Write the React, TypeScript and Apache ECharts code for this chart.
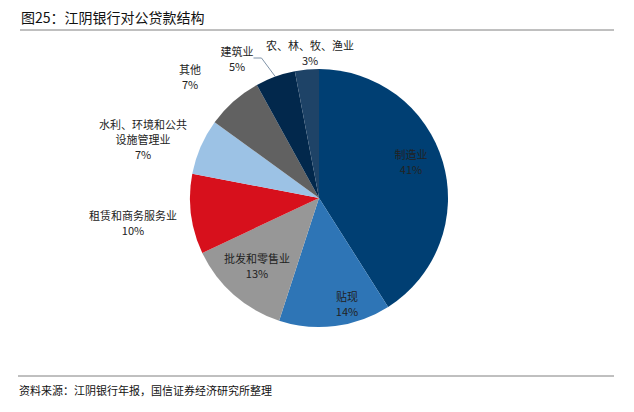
import React, { useEffect, useRef } from "react";
import * as echarts from "echarts";

const categories = ["制造业", "贴现", "批发和零售业", "租赁和商务服务业", "水利、环境和公共\n设施管理业", "其他", "建筑业", "农、林、牧、渔业"];
const values = [41, 14, 13, 10, 7, 7, 5, 3];
const colors = ["#003F73", "#2E75B6", "#979797", "#D7101C", "#9CC2E5", "#616161", "#02284C", "#1E4367"];
const labelPos: [number, number][] = [
  [411, 161], [347, 303], [257, 265], [133, 222], [143, 139], [190, 76], [237, 58], [310, 52],
];

export default function App() {
  const ref = useRef<HTMLDivElement>(null);
  useEffect(() => {
    document.body.style.margin = "0";
    const chart = echarts.init(ref.current!, null, { renderer: "svg" });
    const font = "'Noto Sans CJK SC', 'Noto Sans', sans-serif";
    chart.setOption({
      animation: false,
      backgroundColor: "#fff",
      graphic: [
        { type: "text", left: 21, top: 10, style: { text: "图25：江阴银行对公贷款结构", font: `14px ${font}`, fill: "#111" } },
        { type: "line", shape: { x1: 20, y1: 30, x2: 614, y2: 30 }, style: { stroke: "#808080", lineWidth: 1 } },
        { type: "line", shape: { x1: 18, y1: 376, x2: 614, y2: 376 }, style: { stroke: "#808080", lineWidth: 1 } },
        { type: "text", left: 19, top: 384, style: { text: "资料来源：江阴银行年报，国信证券经济研究所整理", font: `11px ${font}`, fill: "#111" } },
      ],
      series: [
        {
          type: "pie",
          center: [319, 198],
          radius: [0, 129],
          startAngle: 90,
          clockwise: true,
          data: categories.map((n, i) => ({
            name: n,
            value: values[i],
            itemStyle: { color: colors[i] },
            labelLine: { show: i === 6, length: 6, length2: 8, lineStyle: { color: "#7f93a8", width: 1 } },
          })),
          label: {
            show: true,
            position: "outside",
            formatter: (p: any) => `${p.name}\n${p.value}%`,
            fontFamily: font,
            fontSize: 11,
            lineHeight: 15,
            color: "#222",
            align: "center",
          },
          labelLayout: (p: any) => ({
            x: labelPos[p.dataIndex][0],
            y: labelPos[p.dataIndex][1],
            align: "center",
            verticalAlign: "middle",
          }),
        },
      ],
    });
    return () => chart.dispose();
  }, []);
  return <div ref={ref} style={{ width: 634, height: 412 }} />;
}
